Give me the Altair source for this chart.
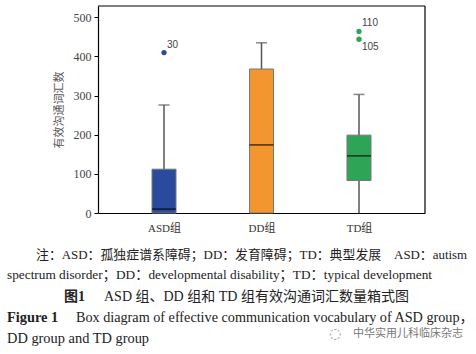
import altair as alt
import pandas as pd

# ---- data ----
groups = ["ASD组", "DD组", "TD组"]
whisker_low = [0, 0, 0]
q1 = [0, 0, 83]
median = [10, 174, 146]
q3 = [112, 368, 199]
whisker_high = [276, 435, 303]
colors = ["#2a4a9e", "#f3962f", "#2ea456"]

out_group = ["ASD组", "TD组", "TD组"]
out_value = [410, 464, 444]
out_label = ["30", "110", "105"]
out_pos = ["above", "above", "below"]

y_ticks = [0, 100, 200, 300, 400, 500]
y_max = 529
y_title = "有效沟通词汇数"
note1 = "注：ASD：孤独症谱系障碍；DD：发育障碍；TD：典型发展　ASD：autism"
note2 = "spectrum disorder；DD：developmental disability；TD：typical development"
fig_cn_head = "图1"
fig_cn = "ASD 组、DD 组和 TD 组有效沟通词汇数量箱式图"
fig_en_head = "Figure 1"
fig_en1 = "Box diagram of effective communication vocabulary of ASD group，"
fig_en2 = "DD group and TD group"
watermark = "中华实用儿科临床杂志"

box = pd.DataFrame({"group": groups, "lo": whisker_low, "q1": q1, "med": median,
                    "q3": q3, "hi": whisker_high})
outl = pd.DataFrame({"group": out_group, "v": out_value, "lab": out_label, "pos": out_pos})
one = pd.DataFrame({"k": [0]})

SERIF = "'Liberation Serif', 'Noto Sans CJK SC', serif"
SANS = "'Liberation Sans', 'Noto Sans CJK SC', sans-serif"

xscale = alt.Scale(type="point", domain=groups, padding=0.677)
yscale = alt.Scale(domain=[0, y_max], nice=False)
colscale = alt.Scale(domain=groups, range=colors)

xenc = alt.X("group:N", scale=xscale,
             axis=alt.Axis(title=None, labelAngle=0, ticks=False, domain=True,
                           domainColor="#000", domainWidth=1.2, labelFont=SERIF,
                           labelFontSize=11, labelColor="#333", labelPadding=9))
yaxis = alt.Axis(title=y_title, values=y_ticks, grid=False,
                 domainColor="#000", domainWidth=1.2, tickColor="#000", tickSize=4,
                 labelFont=SERIF, labelFontSize=12, labelColor="#444", labelPadding=3,
                 titleFont="Noto Sans CJK SC", titleFontSize=11, titleFontWeight="normal",
                 titleColor="#555", titlePadding=9)

def X(field="group:N"):
    return alt.X(field, scale=xscale, axis=None)

def Y(field):
    return alt.Y(field, scale=yscale, axis=None)

base = alt.Chart(box)

# top and right border of the frame
top_line = alt.Chart(one).mark_rule(color="#000", strokeWidth=1.2).encode(
    y=alt.Y(datum=y_max, scale=yscale, axis=None))
right_line = alt.Chart(one).mark_rule(color="#000", strokeWidth=1.2).encode(
    x=alt.X(datum=1, scale=alt.Scale(domain=[0, 1], nice=False), axis=None))

whisk = base.mark_rule(color="#555", strokeWidth=1.5).encode(
    x=xenc, y=alt.Y("lo:Q", scale=yscale, axis=yaxis), y2="hi:Q")
caps = base.mark_tick(color="#555", size=11, thickness=1.5, orient="horizontal").encode(
    x=X(), y=Y("hi:Q"))
boxes = base.mark_bar(size=24, stroke="#777", strokeWidth=1).encode(
    x=X(), y=Y("q1:Q"), y2="q3:Q",
    color=alt.Color("group:N", scale=colscale, legend=None))
meds = base.mark_tick(color="#000", size=24, thickness=1.5, orient="horizontal").encode(
    x=X(), y=Y("med:Q"))

opts = alt.Chart(outl).mark_point(filled=True, opacity=1, size=28, shape="circle").encode(
    x=X(), y=Y("v:Q"), color=alt.Color("group:N", scale=colscale, legend=None))
olab_up = alt.Chart(outl).transform_filter(alt.datum.pos == "above").mark_text(
    align="left", dx=3, dy=-8, font=SANS, fontSize=10, color="#444").encode(
    x=X(), y=Y("v:Q"), text="lab:N")
olab_dn = alt.Chart(outl).transform_filter(alt.datum.pos == "below").mark_text(
    align="left", dx=3, dy=8, font=SANS, fontSize=10, color="#444").encode(
    x=X(), y=Y("v:Q"), text="lab:N")

def caption(txt, x, y, size=13.5, weight="normal", color="#222", font=SERIF, align="left"):
    return alt.Chart(pd.DataFrame({"t": [txt]})).mark_text(
        align=align, baseline="middle", font=font, fontSize=size, fontWeight=weight,
        color=color, clip=False).encode(
        x=alt.value(x), y=alt.value(y), text="t:N")

L, T = 98, 6
caps_layers = [
    caption(note1, 36 - L, 255 - T, size=12.9),
    caption(note2, 7 - L, 275 - T, size=13.3),
    caption(fig_cn_head, 64 - L, 297 - T, size=14, weight="bold"),
    caption(fig_cn, 104 - L, 297 - T, size=14),
    caption(fig_en_head, 7 - L, 318 - T, size=14.4, weight="bold"),
    caption(fig_en1, 76 - L, 318 - T, size=14.2),
    caption(fig_en2, 7 - L, 339 - T, size=14.4),
    caption(watermark, 353 - L, 334 - T, size=11, color="#777", font="Noto Sans CJK SC"),
    caption("◌", 329 - L, 334 - T, size=14, color="#999", font="DejaVu Sans"),
]

chart = alt.layer(whisk, caps, boxes, meds, opts, olab_up, olab_dn, top_line, right_line,
                  *caps_layers).resolve_scale(
    x="independent"
).resolve_axis(
    x="independent", y="independent"
).properties(
    width=327, height=207,
    autosize=alt.AutoSizeParams(type="none"),
    padding={"left": L, "top": T, "right": 51, "bottom": 141},
    background="white",
).configure_view(stroke=None)

chart.save("out.html", embed_options={"renderer": "svg", "actions": False})
